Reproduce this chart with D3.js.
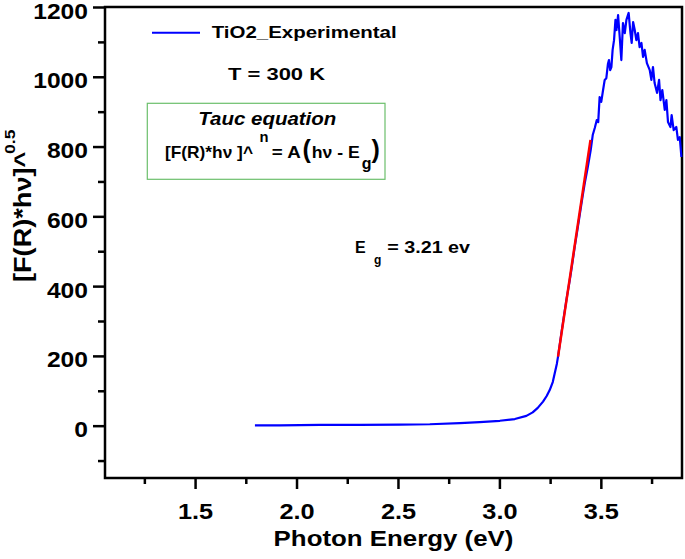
<!DOCTYPE html>
<html><head><meta charset="utf-8">
<script src="https://cdn.jsdelivr.net/npm/d3@7"></script>
<style>
body{margin:0;background:#fff}
svg text{font-family:"Liberation Sans",Arial,sans-serif;font-weight:bold;fill:#000}
</style>
</head><body><svg id="c" width="685" height="559"></svg>
<script>
// Photon energy (eV) and Tauc values [F(R)*hv]^0.5
const energy = [1.795,1.918,2.115,2.312,2.509,2.657,2.805,2.903,3.002,3.076,
  3.133,3.164,3.189,3.215,3.233,3.248,3.263,3.273,3.283,3.289,
  3.307,3.330,3.347,3.356,3.371,3.386,3.401,3.411,3.421,3.435,
  3.450,3.460,3.470,3.480,3.487,3.494,3.502,3.511,3.519,3.527,
  3.535,3.540,3.546,3.552,3.558,3.565,3.572,3.577,3.585,3.593,
  3.601,3.609,3.618,3.626,3.637,3.646,3.652,3.659,3.667,3.675,
  3.683,3.691,3.700,3.708,3.716,3.727,3.741,3.749,3.757,3.765,
  3.777,3.787,3.794,3.803,3.815,3.823,3.831,3.843,3.849,3.859,
  3.872,3.880,3.889,3.897];
const tauc = [1,1,2,2,3,4,7,10,14,19,
  28,38,51,69,85,102,125,151,177,198,
  271,360,418,452,512,567,624,661,696,739,
  790,833,853,876,870,942,928,962,991,996,
  1037,1048,1019,1028,1077,1105,1163,1134,1177,1114,
  1048,1154,1125,1163,1183,1125,1097,1157,1134,1105,
  1125,1085,1097,1057,1077,1039,1019,991,1028,982,
  954,991,933,962,905,933,870,856,890,847,
  856,819,827,770];
// Linear Tauc fit segment (red)
const fitEnergy = [3.289, 3.449];
const fitTauc = [198, 819];
const xMajorTicks = [1.5, 2.0, 2.5, 3.0, 3.5];
const xMinorTicks = [1.25, 1.75, 2.25, 2.75, 3.25, 3.75];
const yMajorTicks = [0, 200, 400, 600, 800, 1000, 1200];
const yMinorTicks = [-100, 100, 300, 500, 700, 900, 1100];
const seriesName = "TiO2_Experimental";
const xTitle = "Photon Energy (eV)";

const svg = d3.select("#c");
const L = 105, R = 682, T = 7, B = 478;
const x = d3.scaleLinear().domain([1.056, 3.9]).range([L, R]);
const y = d3.scaleLinear().domain([-150, 1200]).range([B, T]);

// axes
const gxMinor = svg.append("g").attr("transform", `translate(0,${B})`)
  .call(d3.axisBottom(x).tickValues(xMinorTicks).tickSize(6).tickFormat(""));
const gx = svg.append("g").attr("transform", `translate(0,${B})`)
  .call(d3.axisBottom(x).tickValues(xMajorTicks).tickSize(11).tickFormat(d3.format(".1f")));
const gyMinor = svg.append("g").attr("transform", `translate(${L},0)`)
  .call(d3.axisLeft(y).tickValues(yMinorTicks).tickSize(7).tickFormat(""));
const gy = svg.append("g").attr("transform", `translate(${L},0)`)
  .call(d3.axisLeft(y).tickValues(yMajorTicks).tickSize(12).tickFormat(d3.format("d")));
[gxMinor, gx, gyMinor, gy].forEach(g => {
  g.select(".domain").remove();
  g.selectAll(".tick line").attr("stroke", "#000").attr("stroke-width", 2.5);
});
gx.selectAll("text").attr("font-size", 22).attr("y", 41).attr("dy", null)
  .attr("transform", "scale(1.15,1)").style("font-family", '"Liberation Sans",Arial,sans-serif').style("font-weight","bold");
gy.selectAll("text").attr("font-size", 22).attr("x", -17 / 1.12).attr("dy", "0.5em")
  .attr("transform", "scale(1.12,1)").style("font-family", '"Liberation Sans",Arial,sans-serif').style("font-weight","bold");

// frame
svg.append("rect").attr("x", L).attr("y", T).attr("width", R - L).attr("height", B - T)
  .attr("fill", "none").attr("stroke", "#000").attr("stroke-width", 2.5);

// data line
const pts = energy.map((e, i) => [e, tauc[i]]);
const line = d3.line().x(d => x(d[0])).y(d => y(d[1]));
svg.append("path").datum(pts).attr("d", line).attr("fill", "none")
  .attr("stroke", "#0000ff").attr("stroke-width", 2.2).attr("stroke-linejoin", "round");
svg.append("path").datum(fitEnergy.map((e, i) => [e, fitTauc[i]])).attr("d", line)
  .attr("fill", "none").attr("stroke", "#ff0000").attr("stroke-width", 2.5);

// helper: text stretched to a given width
function txtW(px, py, str, size, width, opts = {}) {
  const t = svg.append("text").attr("x", px).attr("y", py)
    .attr("font-size", size).text(str);
  if (width) t.attr("textLength", width).attr("lengthAdjust", "spacingAndGlyphs");
  if (opts.weight) t.style("font-weight", opts.weight);
  if (opts.italic) t.style("font-style", "italic");
  return t;
}

// legend
svg.append("line").attr("x1", 152).attr("x2", 200).attr("y1", 32.7).attr("y2", 32.7)
  .attr("stroke", "#0000ff").attr("stroke-width", 2);
txtW(211.7, 38.3, seriesName, 16, 185);
txtW(228, 80, "T = 300 K", 16, 97);

// Tauc box
svg.append("rect").attr("x", 147.3).attr("y", 103.3).attr("width", 237.7).attr("height", 76)
  .attr("fill", "none").attr("stroke", "#6cbf6c").attr("stroke-width", 1.2);
txtW(198.3, 125, "Tauc equation", 18.5, 138, {italic: true});
txtW(165, 158.3, "[F(R)*h\u03bd ]^", 16.5, 88);
txtW(259.5, 141.5, "n", 15, 9);
txtW(271.7, 158.3, "= A", 16.5, 29);
txtW(302.5, 158.3, "(", 25, null);
txtW(311.7, 158.3, "h\u03bd - E", 16.5, 48);
txtW(361.7, 169.3, "g", 16, null);
txtW(371.5, 158.3, ")", 25, null);

// Eg annotation
txtW(355, 253.3, "E", 16, null);
txtW(374, 264, "g", 12, null);
txtW(387.3, 253.3, "= 3.21 ev", 16, 82.7);

// axis titles
svg.append("text").attr("x", (L + R) / 2).attr("y", 546).attr("text-anchor", "middle")
  .attr("font-size", 22.3).attr("transform", `translate(${(L+R)/2},0) scale(1.16,1) translate(${-(L+R)/2},0)`)
  .text(xTitle);
const yt = svg.append("g").attr("transform", "translate(31,282) rotate(-90) scale(1.18,1)");
yt.append("text").attr("x", 0).attr("y", 0).attr("font-size", 23).text("[F(R)*h\u03bd]^");
yt.append("text").attr("x", 108.5).attr("y", -16).attr("font-size", 15).text("0.5");
</script>
</body></html>
